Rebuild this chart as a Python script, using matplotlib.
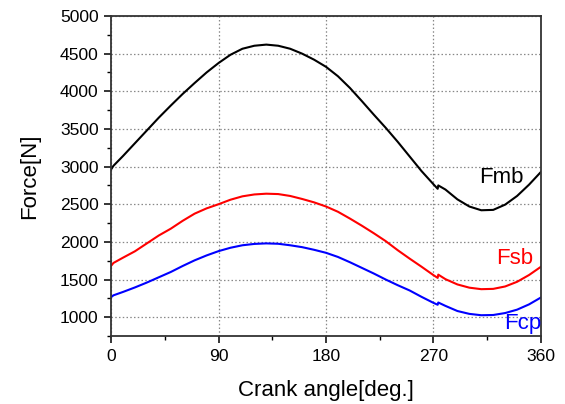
"""
Crank angle vs force chart (Fmb, Fsb, Fcp).
"""

import matplotlib.pyplot as plt
from matplotlib.ticker import MultipleLocator

plt.rcParams["font.family"] = ["Liberation Sans", "DejaVu Sans"]

# crank angle [deg.], small step at ~274 deg is part of the data
angle = [0, 2, 10, 20, 30, 40, 50, 60, 70, 80, 90, 100, 110, 120, 130,
         140, 150, 160, 170, 180, 190, 200, 210, 220, 230, 240, 250, 260,
         270, 273.5, 274, 280, 290, 300, 310, 320, 330, 340, 350, 360]

fmb = [2960, 3010, 3140, 3310, 3480, 3650, 3810, 3965, 4110, 4250, 4375,
       4485, 4565, 4605, 4620, 4605, 4565, 4500, 4420, 4325, 4200, 4045,
       3870, 3690, 3515, 3330, 3135, 2940, 2765, 2705, 2750, 2695, 2565,
       2470, 2420, 2425, 2495, 2610, 2760, 2930]

fsb = [1680, 1720, 1790, 1875, 1980, 2085, 2175, 2280, 2375, 2445, 2500,
       2560, 2605, 2630, 2640, 2635, 2610, 2570, 2525, 2470, 2400, 2310,
       2215, 2115, 2010, 1890, 1778, 1670, 1558, 1522, 1565, 1505, 1435,
       1392, 1372, 1376, 1408, 1470, 1560, 1670]

fcp = [1265, 1290, 1335, 1395, 1460, 1530, 1600, 1680, 1755, 1820, 1877,
       1922, 1955, 1973, 1980, 1975, 1955, 1930, 1895, 1855, 1800, 1730,
       1655, 1580, 1500, 1425, 1355, 1270, 1190, 1165, 1195, 1150, 1082,
       1044, 1026, 1029, 1055, 1100, 1170, 1262]

x_ticks = [0, 90, 180, 270, 360]
y_ticks = list(range(1000, 5001, 500))

fig = plt.figure(figsize=(5.65, 4.04), dpi=100)
ax = fig.add_axes([0.1965, 0.1683, 0.761, 0.7921])

ax.plot(angle, fmb, color="black", lw=1.5)
ax.plot(angle, fsb, color="#ff0000", lw=1.5)
ax.plot(angle, fcp, color="#0000ff", lw=1.5)

# series labels inside the plot
ax.text(326.5, 2850, "Fmb", color="black", fontsize=16,
        ha="center", va="center")
ax.text(338, 1786, "Fsb", color="#ff0000", fontsize=16,
        ha="center", va="center")
ax.text(345, 920, "Fcp", color="#0000ff", fontsize=16,
        ha="center", va="center", clip_on=False)

ax.set_xlim(0, 360)
ax.set_ylim(750, 5000)
ax.set_xticks(x_ticks)
ax.set_yticks(y_ticks)
ax.xaxis.set_minor_locator(MultipleLocator(45))
ax.yaxis.set_minor_locator(MultipleLocator(250))

ax.grid(True, which="major", linestyle=(0, (1.2, 1.8)), color="#888888",
        lw=0.9)
ax.tick_params(which="major", direction="out", length=5, width=1.1,
               labelsize=12.6, pad=4)
ax.tick_params(which="minor", direction="out", length=3, width=1.0)
ax.tick_params(top=False, right=False, which="both")
for sp in ax.spines.values():
    sp.set_linewidth(1.3)
    sp.set_color("#333333")

ax.set_xlabel("Crank angle[deg.]", fontsize=16, labelpad=12)
ax.set_ylabel("Force[N]", fontsize=16, labelpad=14)

fig.savefig("out.png", dpi=100)
